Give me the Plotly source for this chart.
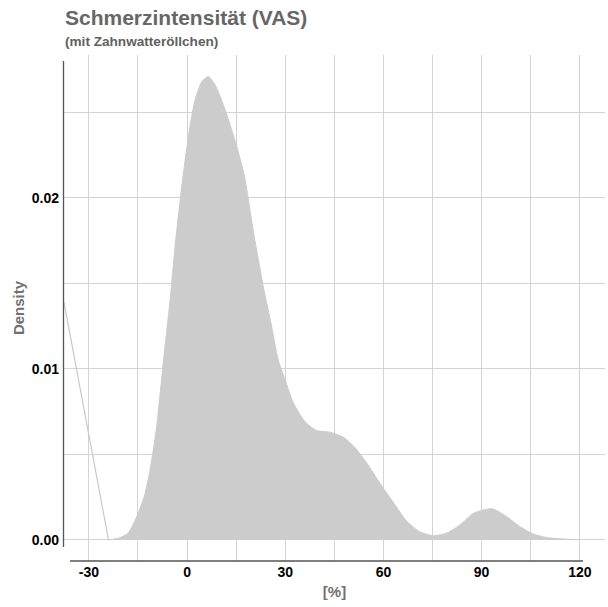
import plotly.graph_objects as go

# Kernel density estimate of VAS pain intensity (values read per x position)
vas_x = [-24, -21, -18, -15.4, -13, -11.3, -9.3, -7.2, -5.2, -3.7, -2.1, -0.6,
         0.9, 2.4, 4.5, 6.5, 8.6, 10.6, 12.6, 15.2, 17.5, 20.3, 23.3, 25.4,
         27.9, 29.9, 32.5, 36.1, 39.6, 43.7, 47.8, 51.3, 54.9, 59.0, 63.0,
         67.1, 71.2, 75.3, 79.3, 83.4, 87.5, 91.6, 93.6, 97.7, 101.7, 105.8,
         109.9, 116, 120]
density = [0.0, 0.0001, 0.0004, 0.00135, 0.0026, 0.0041, 0.0066, 0.0105,
           0.0140, 0.0171, 0.0199, 0.0222, 0.0242, 0.0257, 0.0268, 0.0271,
           0.0266, 0.0257, 0.0246, 0.0230, 0.0213, 0.0180, 0.0148, 0.0129,
           0.0105, 0.0094, 0.0080, 0.0069, 0.0064, 0.0063, 0.0060, 0.0054,
           0.0045, 0.0033, 0.0022, 0.0011, 0.00047, 0.00025, 0.0004, 0.00088,
           0.00156, 0.0018, 0.00181, 0.00136, 0.00078, 0.00035, 0.00014,
           0.00004, 0.00002]

# Stray boundary segment of the density outline on the left
tail_x = [-37.6, -24]
tail_y = [0.0139, 0.0]

x_ticks = [-30, 0, 30, 60, 90, 120]
y_ticks = [0.00, 0.01, 0.02]
y_labels = ["0.00", "0.01", "0.02"]

FONT = "Liberation Sans, Arial, sans-serif"
GRID = "#d3d3d3"
FILL = "#cccccc"
AXIS = "#555555"

fig = go.Figure()
fig.add_trace(go.Scatter(
    x=vas_x, y=density, mode="lines", fill="tozeroy",
    fillcolor=FILL, line=dict(color=FILL, width=1, shape="spline", smoothing=0.6),
    hoverinfo="skip", showlegend=False,
))
fig.add_trace(go.Scatter(
    x=tail_x, y=tail_y, mode="lines",
    line=dict(color="#c8c8c8", width=1.2),
    hoverinfo="skip", showlegend=False, cliponaxis=True,
))

W, H = 608, 607
L, R, T, B = 64, 3, 55, 46

fig.update_layout(
    width=W, height=H,
    margin=dict(l=L, r=R, t=T, b=B, pad=0),
    paper_bgcolor="white", plot_bgcolor="white",
    font=dict(family=FONT, color="#000000"),
    xaxis=dict(
        range=[-37.6, 127.7], tickvals=x_ticks, ticktext=[str(v) for v in x_ticks],
        showgrid=True, gridcolor=GRID, gridwidth=1,
        minor=dict(dtick=15, tick0=0, showgrid=True, gridcolor=GRID, gridwidth=1),
        zeroline=False, showline=False, ticks="",
        tickfont=dict(size=14, family=FONT, color="#000000", weight="bold"),
        ticklabelstandoff=1,
        title=dict(text="[%]", standoff=7,
                   font=dict(size=15, family=FONT, color="#707070", weight="bold")),
        fixedrange=True,
    ),
    yaxis=dict(
        range=[-0.00123, 0.02836], tickvals=y_ticks, ticktext=y_labels,
        showgrid=True, gridcolor=GRID, gridwidth=1,
        minor=dict(dtick=0.005, tick0=0, showgrid=True, gridcolor=GRID, gridwidth=1),
        zeroline=False, showline=False, ticks="",
        tickfont=dict(size=14, family=FONT, color="#000000", weight="bold"),
        ticklabelstandoff=4,
        title=dict(text="Density", standoff=3,
                   font=dict(size=15, family=FONT, color="#707070", weight="bold")),
        fixedrange=True,
    ),
)

pw = W - L - R
ph = H - T - B


def px_x(p):
    return (p - L) / pw


def px_y(p):
    return (H - B - p) / ph


# Detached axis lines
fig.add_shape(type="line", xref="paper", yref="paper",
              x0=px_x(63.5), x1=px_x(63.5), y0=px_y(61), y1=px_y(547),
              line=dict(color=AXIS, width=1.3), layer="above")
fig.add_shape(type="line", xref="paper", yref="paper",
              x0=px_x(70), x1=px_x(583), y0=0, y1=0,
              line=dict(color=AXIS, width=1.3), layer="above")

fig.add_annotation(text="Schmerzintensität (VAS)", xref="paper", yref="paper",
                   x=px_x(63), y=px_y(17.5), xanchor="left", yanchor="middle",
                   showarrow=False,
                   font=dict(size=21, family=FONT, color="#666666", weight="bold"))
fig.add_annotation(text="(mit Zahnwatteröllchen)", xref="paper", yref="paper",
                   x=px_x(63), y=px_y(42), xanchor="left", yanchor="middle",
                   showarrow=False,
                   font=dict(size=13.6, family=FONT, color="#606060", weight="bold"))

fig.write_html("out.html")
